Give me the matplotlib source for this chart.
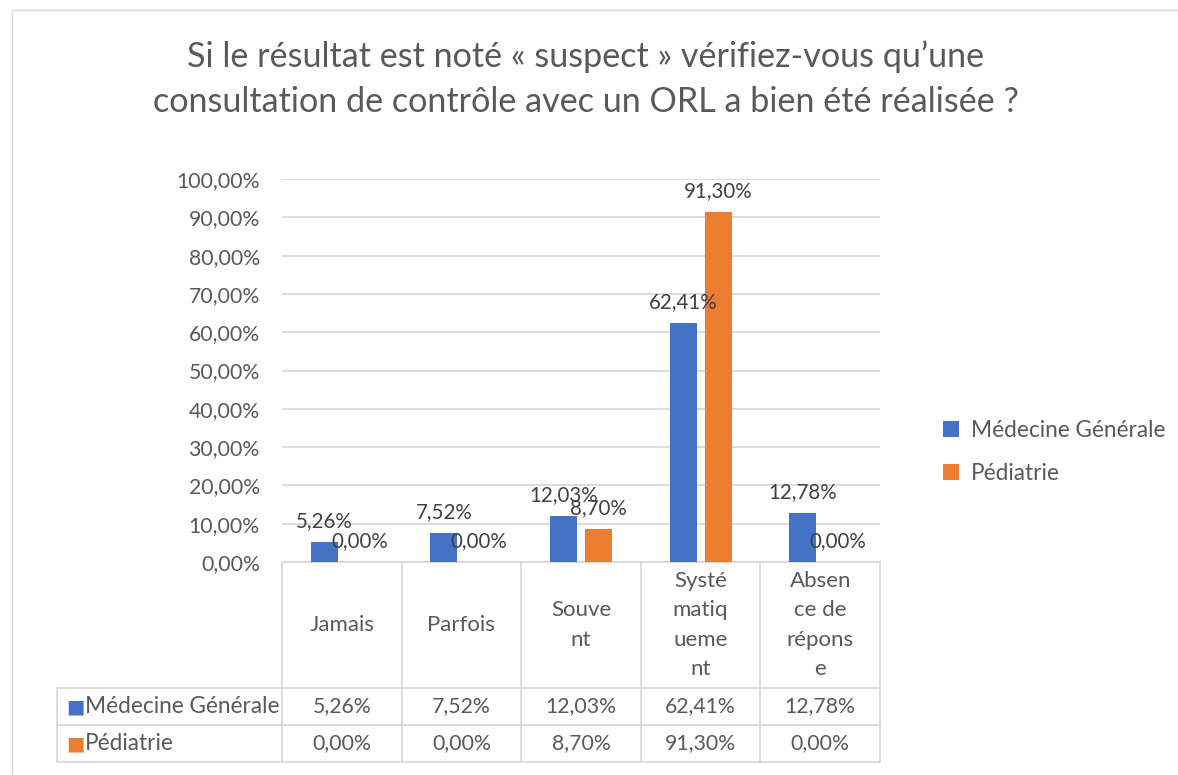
import matplotlib
matplotlib.use("Agg")
import matplotlib.pyplot as plt
import matplotlib.transforms as mtransforms
import numpy as np

# ── Data ───────────────────────────────────────────────────────────────────
categories = ["Jamais", "Parfois", "Souvent", "Systématiquement", "Absence de réponse"]
tick_labels = ["Jamais", "Parfois", "Souve\nnt", "Systé\nmatiq\nueme\nnt", "Absen\nce de\nrépons\ne"]
series = ["Médecine Générale", "Pédiatrie"]
med_gen = [5.26, 7.52, 12.03, 62.41, 12.78]
pediatrie = [0.00, 0.00, 8.70, 91.30, 0.00]

# ── Style ──────────────────────────────────────────────────────────────────
BLUE = "#4472C4"
ORANGE = "#ED7D31"
TEXT = "#595959"
GRID = "#D9D9D9"
FONT = "Lato"

W, H = 1178, 775
fig = plt.figure(figsize=(W / 100, H / 100), dpi=100)
fig.patch.set_facecolor("white")

# outer chart frame
fig.add_artist(plt.Rectangle((12 / W, -0.1), 1.2, 1 - 10 / H + 0.1,
                             transform=fig.transFigure, fill=False,
                             edgecolor=GRID, linewidth=1.0))

fig.text(0.497, 1 - 57 / H, "Si le résultat est noté « suspect » vérifiez-vous qu’une",
         ha="center", va="center", fontsize=24.6, color=TEXT, family=FONT)
fig.text(0.497, 1 - 102 / H, "consultation de contrôle avec un ORL a bien été réalisée ?",
         ha="center", va="center", fontsize=24.6, color=TEXT, family=FONT)

left, right, top, bottom = 282, 880, 179, 562
ax = fig.add_axes([left / W, 1 - bottom / H, (right - left) / W, (bottom - top) / H])

x = np.arange(len(categories))
bw = 0.226
off = 0.146
vals = [med_gen, pediatrie]
colors = [BLUE, ORANGE]
for i, (v, c) in enumerate(zip(vals, colors)):
    pos = x + (-off if i == 0 else off)
    ax.bar(pos, v, bw, color=c, zorder=3, label=series[i])
    for px, pv in zip(pos, v):
        ax.annotate(f"{pv:.2f}%".replace(".", ","), (px, pv),
                    xytext=(0, 15), textcoords="offset points",
                    ha="center", va="center", fontsize=14.8, color="#404040",
                    family=FONT, zorder=4)

ax.set_xlim(-0.5, len(categories) - 0.5)
ax.set_ylim(0, 100)
ax.set_yticks(np.arange(0, 101, 10))
ax.set_yticklabels([f"{t:.2f}%".replace(".", ",") for t in np.arange(0, 101, 10)],
                   fontsize=15.3, color=TEXT, family=FONT)
ax.tick_params(axis="y", length=0, pad=16)
ax.set_xticks([])
ax.grid(axis="y", color=GRID, linewidth=1.3, zorder=1)
for s in ax.spines.values():
    s.set_visible(False)

# ── Data table below the axis ──────────────────────────────────────────────
tr = mtransforms.blended_transform_factory(ax.transData, ax.transAxes)
ph = bottom - top
def yfrac(py):
    return (bottom - py) / ph

y_top = yfrac(562)
y_cat = yfrac(688)
y_r1 = yfrac(725)
y_r2 = yfrac(762)
x_leg = -0.5 - (left - 57) / ((right - left) / len(categories))

lk = dict(color=GRID, linewidth=1.3, transform=tr, clip_on=False, zorder=2)
for b in np.arange(-0.5, len(categories) + 0.5, 1):
    ax.plot([b, b], [y_top, y_r2], **lk)
ax.plot([x_leg, x_leg], [y_cat, y_r2], **lk)
ax.plot([-0.5, len(categories) - 0.5], [y_top, y_top], **lk)
for yy in (y_cat, y_r1, y_r2):
    ax.plot([x_leg, len(categories) - 0.5], [yy, yy], **lk)

for xi, lab in zip(x, tick_labels):
    ax.text(xi, (y_top + y_cat) / 2, lab, transform=tr, ha="center", va="center",
            fontsize=16, color=TEXT, family=FONT, linespacing=1.6)

row_y = [(y_cat + y_r1) / 2, (y_r1 + y_r2) / 2]
for r, (v, c, name) in enumerate(zip(vals, colors, series)):
    ax.text(x_leg + 0.075, row_y[r], "■", transform=tr, ha="left", va="center",
            fontsize=14, color=c, family="DejaVu Sans")
    ax.text(x_leg + 0.235, row_y[r], name, transform=tr, ha="left", va="center",
            fontsize=16.3, color=TEXT, family=FONT)
    for xi, pv in zip(x, v):
        ax.text(xi, row_y[r], f"{pv:.2f}%".replace(".", ","), transform=tr,
                ha="center", va="center", fontsize=15.3, color=TEXT, family=FONT)

# ── Legend ─────────────────────────────────────────────────────────────────
fig.legend(loc="center left", bbox_to_anchor=(923 / W, 1 - 452 / H), frameon=False,
           prop={"family": FONT, "size": 16.3}, labelcolor=TEXT,
           handlelength=0.7, handleheight=0.7, handletextpad=0.5, labelspacing=1.0)

fig.savefig("out.png", dpi=100, facecolor="white")
